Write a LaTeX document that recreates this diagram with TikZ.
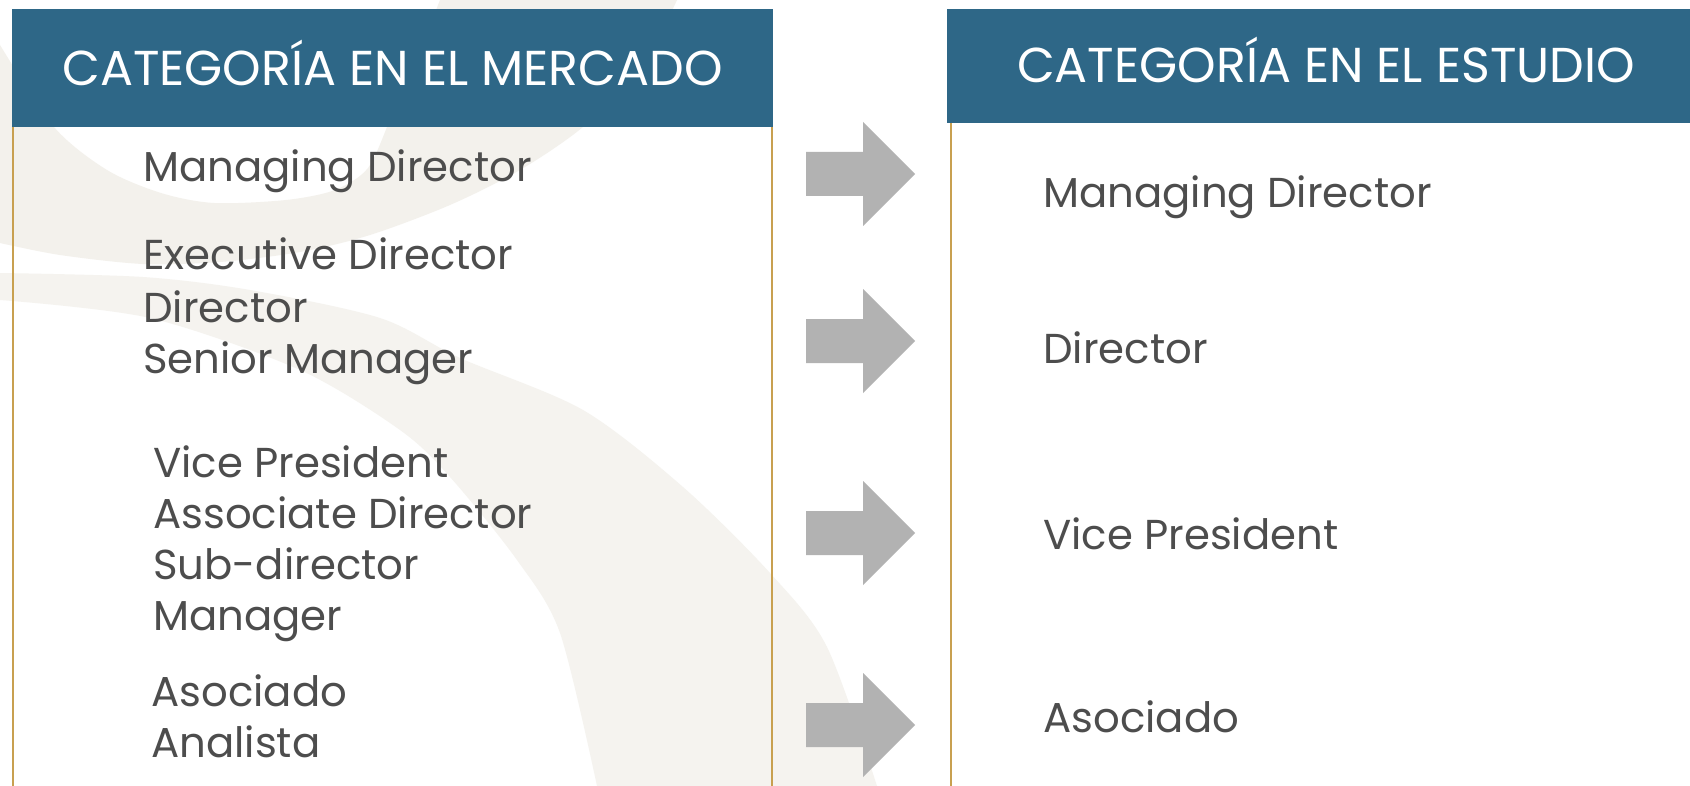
\documentclass[tikz,border=0pt]{standalone}
\usepackage{fontspec}
\setmainfont{Poppins}
\definecolor{hdrblue}{HTML}{2E6787}
\definecolor{txtgray}{HTML}{4D4D4D}
\definecolor{gold}{HTML}{C8A050}
\definecolor{arrowgray}{HTML}{B2B2B2}
\definecolor{swooshA}{HTML}{F3F1EC}
\definecolor{swooshB}{HTML}{F5F3EF}
\tikzset{
  hdrtext/.style={text=white, font=\fontsize{24.5}{28}\selectfont, anchor=base, inner sep=0pt},
  item/.style={text=txtgray, font=\fontsize{20.9}{25.5}\selectfont, anchor=base west, inner sep=0pt},
  goldline/.style={draw=gold, line width=1.2pt},
  blockarrow/.pic={\fill[arrowgray] (0,-22) -- (57,-22) -- (57,-52) -- (109,0) -- (57,52) -- (57,22) -- (0,22) -- cycle;}
}
\begin{document}
\begin{tikzpicture}[x=0.5pt,y=-0.5pt]
\useasboundingbox (0,0) rectangle (1690,786);
\fill[white] (0,0) rectangle (1690,786);
% background swooshes
\fill[swooshA] (0,45) -- plot[smooth] coordinates {(0,45) (54,127) (107,170) (161,193) (214,203) (286,200) (335,190) (368,168) (390,120) (420,50) (440,0)}
  -- (677,0) -- plot[smooth] coordinates {(677,0) (640,70) (583,127) (520,170) (450,205) (370,235) (300,252) (220,262) (143,264) (60,255) (0,243)} -- cycle;
\fill[swooshB] (0,273) -- plot[smooth] coordinates {(0,273) (143,277) (250,290) (380,318) (460,358) (583,410) (683,487) (770,573) (827,647) (877,786)}
  -- (597,786) -- plot[smooth] coordinates {(597,786) (560,633) (517,560) (450,477) (400,430) (300,370) (150,318) (0,300)} -- cycle;
% left panel
\fill[hdrblue] (12,9) rectangle (773,127);
\draw[goldline] (13,127) -- (13,786);
\draw[goldline] (772,127) -- (772,786);
\node[hdrtext] (hL) at (392.5,86) {CATEGORÍA EN EL MERCADO};
% right panel
\fill[hdrblue] (947,9) rectangle (1690,123);
\draw[goldline] (951,123) -- (951,786);
\node[hdrtext] (hR) at (1326,83) {CATEGORÍA EN EL ESTUDIO};
% left items
\node[item] (l1) at (143,182) {Managing Director};
\node[item] (l2a) at (143,270) {Executive Director};
\node[item] (l2b) at (143,322) {Director};
\node[item] (l2c) at (143,373) {Senior Manager};
\node[item] (l3a) at (153,477) {Vice President};
\node[item] (l3b) at (153,528) {Associate Director};
\node[item] (l3c) at (153,579) {Sub-director};
\node[item] (l3d) at (153,630) {Manager};
\node[item] (l4a) at (151,706) {Asociado};
\node[item] (l4b) at (151,757) {Analista};
% right items
\node[item] (r1) at (1043,207) {Managing Director};
\node[item] (r2) at (1043,363) {Director};
\node[item] (r3) at (1043,549) {Vice President};
\node[item] (r4) at (1043,732) {Asociado};
% arrows
\pic at (806,174) {blockarrow};
\pic at (806,341) {blockarrow};
\pic at (806,533) {blockarrow};
\pic at (806,725) {blockarrow};
\end{tikzpicture}
\end{document}
